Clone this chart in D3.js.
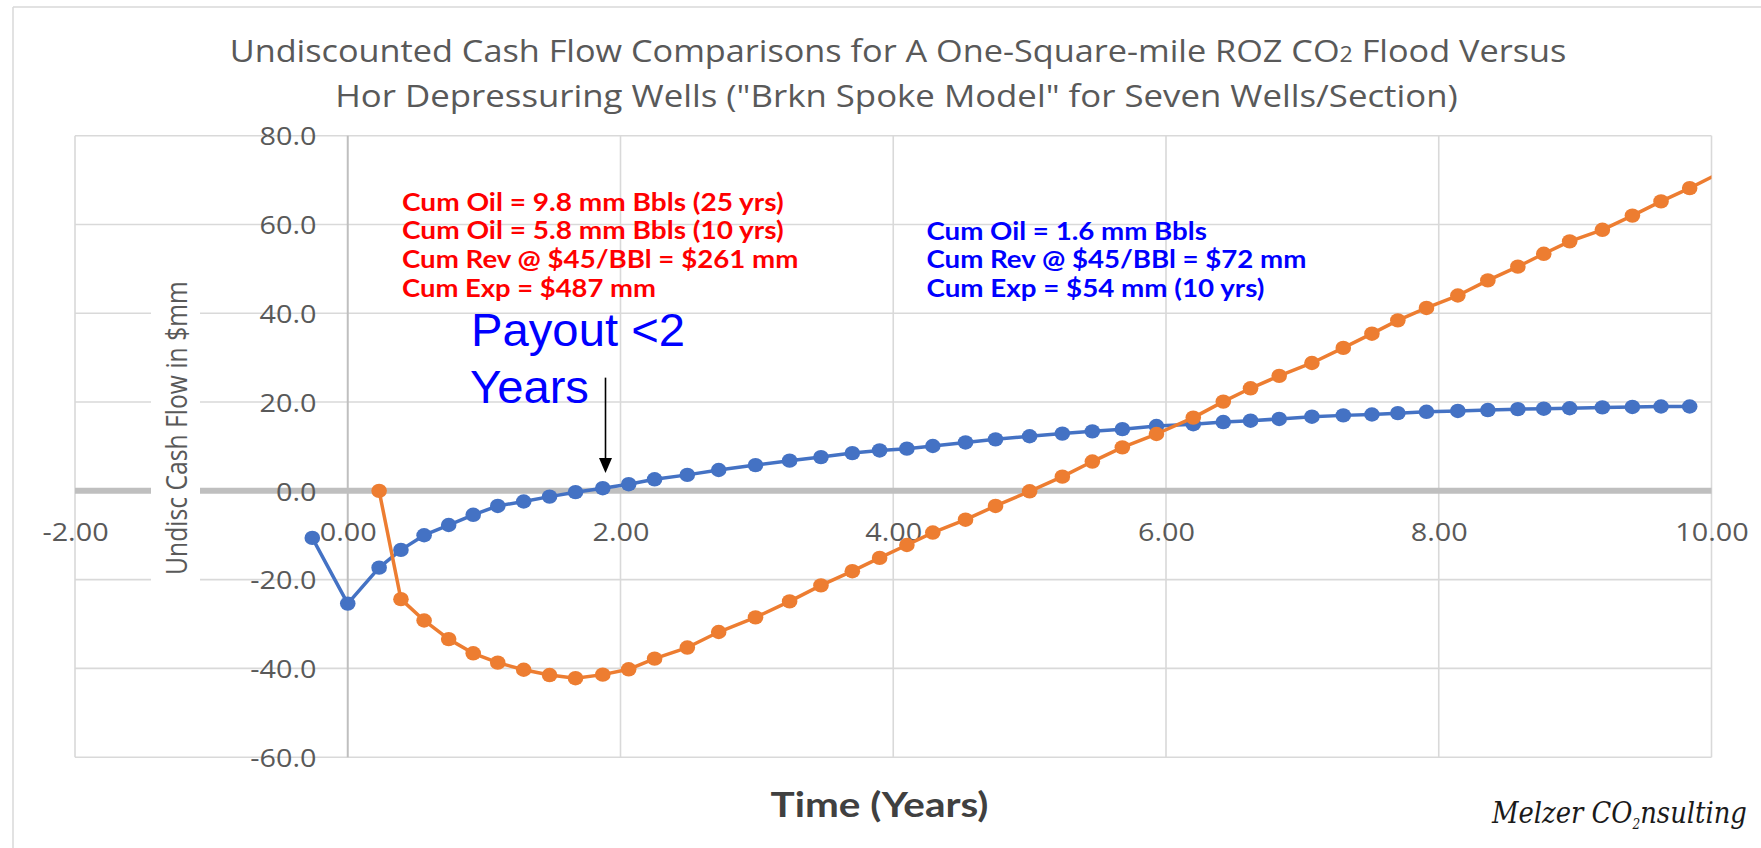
<!DOCTYPE html>
<html><head><meta charset="utf-8">
<script src="https://cdn.jsdelivr.net/npm/d3@7"></script>
<style>body{margin:0;background:#fff;} svg{display:block}</style>
</head><body>
<svg id="c" width="1761" height="848"></svg>
<script>
// ---------- data ----------
const timeYears = [-0.26, 0, 0.23, 0.39, 0.56, 0.74, 0.92, 1.10, 1.29, 1.48, 1.67, 1.87, 2.06, 2.25, 2.49, 2.72, 2.99, 3.24, 3.47, 3.70, 3.90, 4.10, 4.29, 4.53, 4.75, 5.00, 5.24, 5.46, 5.68, 5.93, 6.20, 6.42, 6.62, 6.83, 7.07, 7.30, 7.51, 7.70, 7.91, 8.14, 8.36, 8.58, 8.77, 8.96, 9.20, 9.42, 9.63, 9.84, 10.06];
const horWellsCF = [-10.6, -25.4, -17.3, -13.3, -10.0, -7.7, -5.4, -3.4, -2.4, -1.3, -0.3, 0.6, 1.5, 2.6, 3.6, 4.7, 5.8, 6.8, 7.6, 8.5, 9.1, 9.5, 10.1, 10.9, 11.6, 12.3, 12.9, 13.4, 13.9, 14.6, 15.0, 15.5, 15.8, 16.2, 16.7, 17.0, 17.2, 17.5, 17.8, 18.0, 18.2, 18.4, 18.5, 18.6, 18.8, 18.9, 19.0, 19.0, null];
const co2FloodCF = [null, null, 0, -24.4, -29.2, -33.4, -36.6, -38.7, -40.3, -41.5, -42.2, -41.4, -40.2, -37.8, -35.3, -31.8, -28.5, -24.9, -21.3, -18.1, -15.1, -12.2, -9.4, -6.5, -3.4, -0.1, 3.2, 6.6, 9.8, 12.8, 16.5, 20.1, 23.1, 25.9, 28.8, 32.2, 35.4, 38.4, 41.2, 44.0, 47.4, 50.5, 53.4, 56.2, 58.8, 62.0, 65.2, 68.2, 71.6];
const xTicks = [-2, 0, 2, 4, 6, 8, 10];
const yTicks = [-60, -40, -20, 0, 20, 40, 60, 80];
const titleLine1 = ["Undiscounted Cash Flow Comparisons for A One-Square-mile ROZ CO", "2", " Flood Versus"];
const titleLine2 = "Hor Depressuring Wells (\"Brkn Spoke Model\" for Seven Wells/Section)";
const yTitle = "Undisc Cash Flow in $mm";
const xTitle = "Time (Years)";
const co2Notes = ["Cum Oil = 9.8 mm Bbls (25 yrs)", "Cum Oil = 5.8 mm Bbls (10 yrs)", "Cum Rev @ $45/BBl = $261 mm", "Cum Exp = $487 mm"];
const horNotes = ["Cum Oil = 1.6 mm Bbls", "Cum Rev @ $45/BBl = $72 mm", "Cum Exp = $54 mm (10 yrs)"];
const payoutNote = ["Payout <2", "Years"];
const payoutArrow = {x: 1.89, from: 25.5, to: 4.0};
const watermark = ["Melzer CO", "2", "nsulting"];

// ---------- setup ----------
const svg = d3.select("#c");
const W = 1761, H = 848;
const SX = 1.13; // horizontal stretch of the original image
const x = d3.scaleLinear().domain([-2, 10]).range([75, 1711.5]);
const y = d3.scaleLinear().domain([-60, 80]).range([757.2, 135.7]);
const loc = d3.formatLocale({decimal: ".", thousands: ",", grouping: [3], currency: ["$", ""], minus: "-"});
const f1 = loc.format(".1f"), f2 = loc.format(".2f");

function fit(sel, px, py, target) {
  const w = sel.node().getComputedTextLength();
  const k = target ? target / w : SX;
  sel.attr("transform", `translate(${px},${py}) scale(${k},1)`);
  return sel;
}

// outer chart border
svg.append("line").attr("x1", 13).attr("x2", W).attr("y1", 7).attr("y2", 7).attr("stroke", "#d9d9d9").attr("stroke-width", 1.5);
svg.append("line").attr("x1", 13).attr("x2", 13).attr("y1", 7).attr("y2", H).attr("stroke", "#d9d9d9").attr("stroke-width", 1.5);

// gridlines
const grid = svg.append("g");
grid.selectAll("line.h").data(yTicks.filter(d => d !== 0)).join("line")
  .attr("x1", x(-2)).attr("x2", x(10)).attr("y1", d => y(d)).attr("y2", d => y(d))
  .attr("stroke", "#d9d9d9").attr("stroke-width", 1.6);
grid.selectAll("line.v").data(xTicks.filter(d => d !== 0)).join("line")
  .attr("x1", d => x(d)).attr("x2", d => x(d)).attr("y1", y(80)).attr("y2", y(-60))
  .attr("stroke", "#d9d9d9").attr("stroke-width", 1.6);
// y axis line at x=0
svg.append("line").attr("x1", x(0)).attr("x2", x(0)).attr("y1", y(80)).attr("y2", y(-60))
  .attr("stroke", "#bfbfbf").attr("stroke-width", 2);
// thick zero line
svg.append("line").attr("x1", x(-2)).attr("x2", x(10)).attr("y1", y(0)).attr("y2", y(0))
  .attr("stroke", "#bfbfbf").attr("stroke-width", 6);

// y title with white box
svg.append("rect").attr("x", 151).attr("y", 272).attr("width", 49).attr("height", 316).attr("fill", "#fff");
const yt = svg.append("text").text(yTitle).attr("font-family", "Open Sans").attr("font-size", 25)
  .attr("fill", "#595959").attr("text-anchor", "middle");
{
  const w = yt.node().getComputedTextLength();
  yt.attr("transform", `translate(187,428) rotate(-90) scale(${294 / w},${SX})`);
}

// axes
const yAxis = svg.append("g").attr("transform", "translate(316.5,0)")
  .call(d3.axisLeft(y).tickValues(yTicks).tickFormat(f1).tickSize(0).tickPadding(0));
yAxis.select(".domain").remove();
yAxis.selectAll("text").attr("font-family", "Open Sans").attr("font-size", 25.5).attr("fill", "#595959")
  .attr("dy", "0.36em").attr("transform", `scale(${SX},1)`);

const xAxis = svg.append("g").attr("transform", "translate(0,522.5)")
  .call(d3.axisBottom(x).tickValues(xTicks).tickFormat(f2).tickSize(0).tickPadding(0));
xAxis.select(".domain").remove();
xAxis.selectAll("text").attr("font-family", "Open Sans").attr("font-size", 25.5).attr("fill", "#595959")
  .attr("y", 0).attr("dy", "0.71em").attr("transform", `scale(${SX},1)`);

// title
const t1 = svg.append("text").attr("font-family", "Open Sans").attr("font-size", 31).attr("fill", "#595959").attr("text-anchor", "middle");
t1.append("tspan").text(titleLine1[0]);
t1.append("tspan").text(titleLine1[1]).attr("font-size", 21);
t1.append("tspan").text(titleLine1[2]);
fit(t1, 898, 61.7, 1337);
const t2 = svg.append("text").text(titleLine2).attr("font-family", "Open Sans").attr("font-size", 31).attr("fill", "#595959").attr("text-anchor", "middle");
fit(t2, 896.5, 106.7, 1123);

// x title
const xt = svg.append("text").text(xTitle).attr("font-family", "Lato").attr("font-weight", 700).attr("font-size", 35)
  .attr("fill", "#404040").attr("text-anchor", "middle");
fit(xt, 879.5, 816.7, 218);

// annotations
const redW = [382, 382, 396.5, 254], redB = [211, 239.3, 268.3, 296.7];
co2Notes.forEach((s, i) => {
  const t = svg.append("text").text(s).attr("font-family", "Lato").attr("font-weight", 700).attr("font-size", 25).attr("fill", "#ff0000");
  fit(t, 402, redB[i], redW[i]);
});
const blueW = [280.5, 380, 338], blueB = [240, 268.3, 296.7];
horNotes.forEach((s, i) => {
  const t = svg.append("text").text(s).attr("font-family", "Lato").attr("font-weight", 700).attr("font-size", 25).attr("fill", "#0000ff");
  fit(t, 926.5, blueB[i], blueW[i]);
});
const pW = [214, 119], pX = [471, 470], pB = [346, 403.3];
payoutNote.forEach((s, i) => {
  const t = svg.append("text").text(s).attr("font-family", "Liberation Sans").attr("font-size", 46).attr("fill", "#0000ff");
  fit(t, pX[i], pB[i], pW[i]);
});
// arrow
{
  const ax = x(payoutArrow.x), y1 = y(payoutArrow.from), y2 = y(payoutArrow.to);
  svg.append("line").attr("x1", ax).attr("x2", ax).attr("y1", y1).attr("y2", y2 - 12).attr("stroke", "#000").attr("stroke-width", 1.6);
  svg.append("path").attr("d", `M${ax - 6.5},${y2 - 15}L${ax + 6.5},${y2 - 15}L${ax},${y2}Z`).attr("fill", "#000");
}

// watermark
const wm = svg.append("text").attr("font-family", "DejaVu Serif").attr("font-style", "italic").attr("font-size", 30).attr("fill", "#1a1a1a");
wm.append("tspan").text(watermark[0]);
wm.append("tspan").text(watermark[1]).attr("font-size", 14).attr("dy", 6);
wm.append("tspan").text(watermark[2]).attr("dy", -6);
fit(wm, 1492, 823, 255);

// series
svg.append("clipPath").attr("id", "plotclip").append("rect")
  .attr("x", x(-2)).attr("y", 0).attr("width", x(10) - x(-2)).attr("height", H);
const plot = svg.append("g").attr("clip-path", "url(#plotclip)");
const series = [
  {name: "Hor Depressuring Wells", values: horWellsCF, color: "#4472C4"},
  {name: "ROZ CO2 Flood", values: co2FloodCF, color: "#ED7D31"}
];
const line = d3.line().x(d => x(d[0])).y(d => y(d[1]));
series.forEach(s => {
  const pts = timeYears.map((t, i) => [t, s.values[i]]).filter(d => d[1] != null);
  plot.append("path").datum(pts).attr("d", line).attr("fill", "none")
    .attr("stroke", s.color).attr("stroke-width", 3.5).attr("stroke-linejoin", "round");
  plot.selectAll(null).data(pts).join("ellipse")
    .attr("cx", d => x(d[0])).attr("cy", d => y(d[1])).attr("rx", 7.8).attr("ry", 7.2)
    .attr("fill", s.color);
});
</script>
</body></html>
